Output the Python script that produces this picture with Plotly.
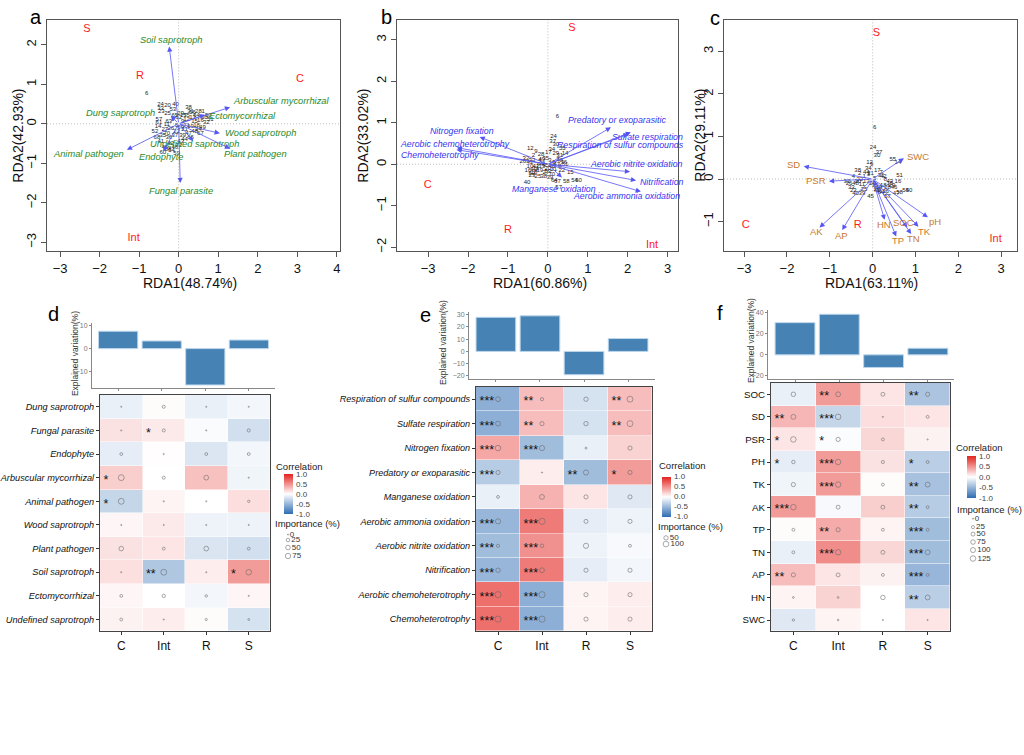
import plotly.graph_objects as go
import math

W, H = 1024, 755
FONT = "Liberation Sans, Arial, sans-serif"

# ======================= DATA =======================
# ---- panel a (fungal functional groups RDA) ----
a_vars = ["Soil saprotroph", "Arbuscular mycorrhizal", "Ectomycorrhizal", "Dung saprotroph",
          "Wood saprotroph", "Undefined saprotroph", "Plant pathogen", "Animal pathogen",
          "Endophyte", "Fungal parasite"]
a_tip_x = [-0.24, 1.30, 0.66, -0.20, 1.04, 0.37, 1.30, -1.31, -0.39, 0.04]
a_tip_y = [1.96, 0.42, 0.23, 0.21, -0.24, -0.44, -0.63, -0.66, -0.70, -1.50]
a_lab_x = [-0.19, 1.32, 0.71, -0.56, 1.11, 0.40, 1.09, -1.33, -0.44, 0.07]
a_lab_y = [2.13, 0.57, 0.19, 0.27, -0.24, -0.51, -0.76, -0.76, -0.84, -1.69]
a_lab_anchor = ["center", "left", "left", "right", "left", "center", "left", "right", "center", "center"]
a_groups = ["S", "R", "C", "Int"]
a_group_x = [-2.32, -0.98, 3.07, -1.14]
a_group_y = [2.40, 1.21, 1.12, -2.91]
a_site_lab = ["6", "24", "20", "40", "33", "23", "25", "38", "28", "1", "31", "17", "57", "61", "14",
              "11", "3", "5", "9", "12", "13", "15", "16", "18", "19", "21", "22", "26", "27", "29",
              "30", "32", "34", "35", "36", "37", "39", "41", "42", "43", "44", "45", "46", "47",
              "48", "49", "50", "51", "52", "53", "54", "55", "56", "58", "59", "60", "62", "63",
              "64", "65", "66", "67", "68", "69", "70", "71", "72"]
a_site_x = [-0.81, -0.46, -0.28, -0.08, -0.46, -0.44, -0.28, 0.25, 0.50, 0.62, 0.30, 0.12, -0.50, -0.50,
            -0.52, -0.30, -0.15, -0.05, 0.10, 0.20, 0.35, 0.40, 0.55, 0.45, 0.30, 0.15, -0.05, -0.20,
            -0.35, 0.05, 0.65, 0.70, 0.50, -0.40, -0.25, -0.10, 0.10, -0.45, -0.20, 0.05, 0.15, -0.35,
            -0.10, 0.25, 0.40, 0.60, 0.75, 0.80, -0.60, -0.15, -0.18, 0.20, 0.35, -0.27, -0.05, -0.40,
            0.00, -0.25, 0.45, -0.10, 0.30, 0.55, -0.55, 0.05, -0.30, 0.20, 0.00]
a_site_y = [0.77, 0.48, 0.46, 0.48, 0.38, 0.30, 0.26, 0.40, 0.32, 0.32, 0.30, 0.22, 0.10, 0.02,
            -0.06, -0.02, 0.10, -0.05, 0.05, 0.10, 0.15, 0.05, 0.08, -0.05, -0.08, -0.15, -0.20, -0.12,
            -0.15, 0.25, 0.15, 0.02, -0.15, -0.30, -0.35, -0.30, -0.30, -0.45, -0.50, -0.45, -0.40,
            -0.60, -0.60, -0.25, -0.20, -0.10, 0.22, 0.10, -0.20, 0.35, -0.68, 0.20, 0.28, -0.66,
            -0.75, -0.73, 0.15, 0.05, 0.20, 0.20, -0.35, -0.25, -0.35, -0.10, -0.25, -0.05, -0.55]

# ---- panel b (bacterial functions RDA) ----
b_vars = ["Predatory or exoparasitic", "Sulfate respiration", "Respiration of sulfur compounds",
          "Aerobic nitrite oxidation", "Nitrification", "Aerobic ammonia oxidation",
          "Manganese oxidation", "Nitrogen fixation", "Aerobic chemoheterotrophy", "Chemoheterotrophy"]
b_tip_x = [1.58, 2.08, 2.02, 2.06, 2.21, 2.33, 0.35, -1.71, -2.28, -2.29]
b_tip_y = [0.89, 0.77, 0.73, -0.18, -0.39, -0.66, -0.32, 0.66, 0.40, 0.35]
b_lab_x = [0.45, 1.56, 0.18, 1.00, 2.25, 0.58, 0.15, -2.15, -2.33, -2.71]
b_lab_y = [1.06, 0.66, 0.47, 0.00, -0.43, -0.77, -0.59, 0.81, 0.50, 0.23]
b_lab_anchor = ["left", "left", "left", "left", "left", "left", "center", "center", "center", "center"]
b_groups = ["S", "C", "R", "Int"]
b_group_x = [0.60, -3.01, -1.00, 2.61]
b_group_y = [3.27, -0.51, -1.60, -1.96]
b_site_lab = ["6", "24", "12", "28", "17", "55", "14", "26", "51", "15", "40", "70", "64", "67", "58",
              "54", "50", "57", "37", "30", "9", "2", "33", "4", "1", "3", "5", "7", "8", "10", "11",
              "13", "16", "18", "19", "20", "21", "22", "23", "25", "27", "29", "31", "32", "34", "35",
              "36", "38", "39", "41", "42", "43", "44", "45", "46", "47", "48", "49", "52", "53"]
b_site_x = [0.24, 0.14, -0.44, -0.17, 0.01, 0.36, 0.43, -0.63, 0.43, 0.56, -0.52, 0.10, 0.16, 0.24, 0.46,
            0.67, 0.77, 0.27, 0.12, 0.20, -0.30, -0.36, -0.40, -0.20, -0.10, 0.05, 0.15, 0.25, 0.30,
            -0.45, -0.30, -0.15, -0.50, -0.35, -0.20, 0.00, 0.15, 0.35, -0.40, -0.25, -0.05, 0.20,
            0.30, -0.55, 0.10, -0.05, 0.40, -0.10, 0.05, -0.30, -0.45, -0.35, -0.20, -0.05, 0.10,
            0.22, 0.30, -0.15, -0.40, 0.00]
b_site_y = [1.14, 0.66, 0.37, 0.23, 0.29, 0.39, 0.26, 0.06, -0.01, -0.19, -0.44, -0.25, -0.39, -0.41,
            -0.41, -0.39, -0.39, -0.56, 0.55, 0.48, 0.30, 0.20, 0.10, 0.10, 0.02, 0.10, 0.05, 0.12,
            -0.05, -0.05, -0.10, -0.05, -0.15, -0.20, -0.15, -0.10, -0.12, -0.15, -0.28, -0.30,
            -0.20, 0.25, 0.20, 0.15, 0.35, 0.15, 0.05, -0.30, -0.32, -0.05, 0.05, -0.12, 0.00,
            -0.02, -0.05, 0.00, 0.08, 0.12, -0.22, -0.18]

# ---- panel c (soil properties RDA) ----
c_vars = ["SWC", "SD", "PSR", "AK", "AP", "HN", "SOC", "TP", "TN", "TK", "pH"]
c_tip_x = [0.73, -1.61, -1.02, -1.24, -0.71, 0.28, 0.81, 0.55, 0.90, 1.07, 1.29]
c_tip_y = [0.49, 0.30, -0.05, -1.14, -1.20, -0.96, -1.14, -1.35, -1.29, -1.12, -0.90]
c_lab_x = [0.76, -1.65, -1.04, -1.31, -0.73, 0.26, 0.71, 0.59, 0.96, 1.20, 1.46]
c_lab_y = [0.52, 0.34, -0.04, -1.24, -1.32, -1.08, -1.02, -1.45, -1.41, -1.23, -0.99]
c_lab_anchor = ["left", "right", "right", "center", "center", "center", "center", "center",
                "center", "center", "center"]
c_groups = ["S", "C", "R", "Int"]
c_group_x = [0.09, -2.96, -0.35, 2.87]
c_group_y = [3.43, -1.08, -1.08, -1.41]
c_site_lab = ["6", "24", "37", "30", "55", "14", "12", "9", "17", "51", "16", "54", "50", "58", "2",
              "4", "26", "40", "33", "1", "3", "5", "7", "8", "10", "11", "13", "15", "18", "19",
              "20", "21", "22", "23", "25", "27", "28", "29", "31", "32", "34", "35", "36", "38",
              "39", "41", "42", "43", "44", "45", "46", "47", "48", "57", "64", "70"]
c_site_x = [0.05, 0.01, 0.15, 0.10, 0.47, 0.59, -0.07, -0.02, 0.11, 0.63, 0.59, 0.77, 0.85, 0.63,
            -0.30, -0.45, -0.55, -0.40, -0.50, -0.20, -0.10, 0.05, 0.20, 0.30, -0.35, -0.25,
            -0.15, 0.40, 0.25, 0.15, 0.00, -0.05, -0.30, -0.45, -0.20, 0.10, 0.35, 0.45, 0.20,
            -0.60, -0.10, 0.05, 0.30, -0.35, -0.25, 0.15, 0.25, 0.40, -0.15, -0.05, 0.50, 0.55,
            -0.40, 0.35, 0.20, 0.10]
c_site_y = [1.21, 0.73, 0.62, 0.55, 0.45, 0.38, 0.38, 0.33, 0.21, 0.08, -0.06, -0.26, -0.26, -0.31,
            0.12, 0.05, -0.10, -0.35, -0.20, 0.05, 0.10, 0.02, 0.15, 0.00, -0.05, -0.12, -0.05,
            -0.10, -0.15, -0.20, -0.10, 0.12, 0.00, -0.28, -0.25, -0.25, -0.20, -0.15, 0.08,
            -0.05, 0.25, -0.15, -0.30, 0.20, -0.35, -0.30, 0.05, -0.05, 0.15, -0.40, -0.20,
            -0.35, -0.10, -0.40, -0.32, -0.28]

# ---- heatmap columns (CSR strategies) ----
strategies = ["C", "Int", "R", "S"]

# ---- panel d ----
d_bar = [7.5, 3.3, -15.7, 3.7]
d_rows = ["Dung saprotroph", "Fungal parasite", "Endophyte", "Arbuscular mycorrhizal", "Animal pathogen",
          "Wood saprotroph", "Plant pathogen", "Soil saprotroph", "Ectomycorrhizal", "Undefined saprotroph"]
d_corr = [[-0.10, 0.02, -0.10, -0.06],
          [0.13, 0.10, -0.03, -0.22],
          [-0.12, 0.01, -0.17, -0.06],
          [0.22, 0.00, 0.28, -0.07],
          [-0.28, 0.05, 0.00, 0.15],
          [0.04, 0.10, -0.08, -0.08],
          [0.13, 0.12, -0.18, -0.22],
          [0.14, -0.38, 0.08, 0.45],
          [0.04, 0.00, -0.06, 0.04],
          [0.06, 0.08, 0.02, -0.20]]
d_imp = [[0, 15, 0, 0],
         [0, 15, 0, 17],
         [12, 0, 12, 12],
         [95, 15, 55, 0],
         [95, 0, 0, 6],
         [0, 0, 0, 0],
         [50, 12, 55, 12],
         [0, 95, 0, 85],
         [12, 20, 6, 0],
         [12, 0, 4, 2]]
d_sig = [["", "", "", ""],
         ["", "*", "", ""],
         ["", "", "", ""],
         ["*", "", "", ""],
         ["*", "", "", ""],
         ["", "", "", ""],
         ["", "", "", ""],
         ["", "**", "", "*"],
         ["", "", "", ""],
         ["", "", "", ""]]
d_leg_vals = [0, 25, 50, 75]

# ---- panel e ----
e_bar = [27.8, 29.0, -19.0, 10.5]
e_rows = ["Respiration of sulfur compounds", "Sulfate respiration", "Nitrogen fixation",
          "Predatory or exoparasitic", "Manganese oxidation", "Aerobic ammonia oxidation",
          "Aerobic nitrite oxidation", "Nitrification", "Aerobic chemoheterotrophy", "Chemoheterotrophy"]
e_corr = [[-0.55, 0.30, -0.20, 0.30],
          [-0.55, 0.30, -0.20, 0.30],
          [0.40, -0.45, -0.10, 0.20],
          [-0.35, 0.08, -0.45, 0.45],
          [-0.10, 0.35, 0.12, -0.15],
          [-0.50, 0.60, -0.12, -0.08],
          [-0.45, 0.50, -0.08, -0.04],
          [-0.50, 0.60, -0.12, -0.06],
          [0.65, -0.55, 0.05, 0.08],
          [0.65, -0.55, 0.05, 0.08]]
e_imp = [[67, 20, 50, 110],
         [67, 44, 50, 110],
         [91, 79, 3, 44],
         [44, 0, 79, 44],
         [14, 67, 44, 44],
         [79, 123, 40, 44],
         [20, 27, 79, 14],
         [54, 67, 44, 44],
         [123, 123, 44, 44],
         [123, 123, 44, 44]]
e_sig = [["***", "**", "", "**"],
         ["***", "**", "", "**"],
         ["***", "***", "", ""],
         ["***", "", "**", "*"],
         ["", "", "", ""],
         ["***", "***", "", ""],
         ["***", "***", "", ""],
         ["***", "***", "", ""],
         ["***", "***", "", ""],
         ["***", "***", "", ""]]
e_leg_vals = [50, 100]

# ---- panel f ----
f_bar = [30.7, 38.7, -12.0, 6.3]
f_rows = ["SOC", "SD", "PSR", "PH", "TK", "AK", "TP", "TN", "AP", "HN", "SWC"]
f_corr = [[-0.10, 0.45, 0.12, -0.40],
          [0.33, -0.28, 0.15, 0.12],
          [0.12, -0.02, 0.18, 0.06],
          [-0.12, 0.45, 0.13, -0.33],
          [-0.07, 0.45, 0.02, -0.42],
          [0.45, -0.04, 0.22, -0.35],
          [0.02, 0.38, 0.05, -0.45],
          [-0.10, 0.52, 0.18, -0.45],
          [0.30, 0.12, 0.06, -0.50],
          [0.05, 0.20, 0.00, -0.33],
          [-0.15, 0.05, 0.00, 0.12]]
f_imp = [[72, 90, 48, 59],
         [90, 125, 0, 19],
         [125, 59, 19, 0],
         [35, 120, 25, 19],
         [59, 120, 19, 90],
         [125, 48, 48, 19],
         [19, 59, 19, 19],
         [19, 120, 48, 90],
         [59, 48, 19, 19],
         [2, 2, 72, 90],
         [8, 1, 0, 0]]
f_sig = [["", "**", "", "**"],
         ["**", "***", "", ""],
         ["*", "*", "", ""],
         ["*", "***", "", "*"],
         ["", "***", "", "**"],
         ["***", "", "", "**"],
         ["", "**", "", "***"],
         ["", "***", "", "***"],
         ["**", "", "", "***"],
         ["", "", "", "**"],
         ["", "", "", ""]]
f_leg_vals = [0, 25, 50, 75, 100, 125]

# ======================= STYLE / LAYOUT =======================
CS = [[0, "#2F6CB2"], [0.5, "#FFFFFF"], [1, "#E3231E"]]
ARROW = "#5656F5"


def px(x):
    return x / W


def py(y):
    return 1 - y / H


fig = go.Figure()
annotations = []
shapes = []
layout = {}


def rda_panel(idx, box, xr, yr, xt, yt, vars_, tx, ty, lx, ly, la, lcol, italic,
              groups, gx, gy, slab, sx, sy, lsize):
    xa = "x" if idx == 1 else "x%d" % idx
    ya = "y" if idx == 1 else "y%d" % idx
    l, t, r, b = box
    common = dict(showline=True, mirror=True, linecolor="#555", linewidth=1, ticks="outside",
                  ticklen=5, tickcolor="#555", showgrid=False, zeroline=False,
                  tickfont=dict(size=13, color="#111"))
    layout["xaxis" if idx == 1 else "xaxis%d" % idx] = dict(domain=[px(l), px(r)], range=xr,
                                                           tickvals=xt, anchor=ya, **common)
    layout["yaxis" if idx == 1 else "yaxis%d" % idx] = dict(domain=[py(b), py(t)], range=yr,
                                                           tickvals=yt, anchor=xa, tickangle=-90,
                                                           **common)
    shapes.append(dict(type="line", xref=xa, yref=ya + " domain", x0=0, x1=0, y0=0, y1=1,
                       line=dict(color="#aaa", width=0.8, dash="1px,2px")))
    shapes.append(dict(type="line", xref=xa + " domain", yref=ya, x0=0, x1=1, y0=0, y1=0,
                       line=dict(color="#aaa", width=0.8, dash="1px,2px")))
    # site labels
    fig.add_trace(go.Scatter(x=sx, y=sy, text=slab, mode="text", xaxis=xa, yaxis=ya,
                             textfont=dict(size=6, color="#222", family=FONT),
                             hoverinfo="skip", showlegend=False))
    # arrows
    for i in range(len(vars_)):
        annotations.append(dict(x=tx[i], y=ty[i], ax=0, ay=0, xref=xa, yref=ya, axref=xa, ayref=ya,
                                showarrow=True, arrowhead=2, arrowsize=1.3, arrowwidth=0.8,
                                arrowcolor=ARROW, text="", standoff=0, startstandoff=0))
        txt = "<i>%s</i>" % vars_[i] if italic else vars_[i]
        annotations.append(dict(x=lx[i], y=ly[i], xref=xa, yref=ya, text=txt, showarrow=False,
                                xanchor=la[i], yanchor="middle",
                                font=dict(size=lsize, color=lcol, family=FONT)))
    # group labels
    fig.add_trace(go.Scatter(x=gx, y=gy, text=groups, mode="text", xaxis=xa, yaxis=ya,
                             textfont=dict(size=11, color="#FF1A1A", family=FONT),
                             hoverinfo="skip", showlegend=False))


rda_panel(1, (47, 19, 340, 251), [-3.33, 4.08], [-3.23, 2.63], list(range(-3, 5)), list(range(-3, 3)),
          a_vars, a_tip_x, a_tip_y, a_lab_x, a_lab_y, a_lab_anchor, "#2A8A2A", True,
          a_groups, a_group_x, a_group_y, a_site_lab, a_site_x, a_site_y, 9.3)
rda_panel(2, (397, 19, 678, 251), [-3.78, 3.26], [-2.1, 3.48], list(range(-3, 4)), list(range(-2, 4)),
          b_vars, b_tip_x, b_tip_y, b_lab_x, b_lab_y, b_lab_anchor, "#3535F0", True,
          b_groups, b_group_x, b_group_y, b_site_lab, b_site_x, b_site_y, 8.8)
rda_panel(3, (724, 19, 1017, 251), [-3.47, 3.37], [-1.70, 3.74], list(range(-3, 4)), list(range(-1, 4)),
          c_vars, c_tip_x, c_tip_y, c_lab_x, c_lab_y, c_lab_anchor, "#C87A2E", False,
          c_groups, c_group_x, c_group_y, c_site_lab, c_site_x, c_site_y, 9.5)

# axis titles for RDA panels
for (cx, cy, txt) in [(190, 283, "RDA1(48.74%)"), (540, 283, "RDA1(60.86%)"), (871, 283, "RDA1(63.11%)")]:
    annotations.append(dict(x=px(cx), y=py(cy), xref="paper", yref="paper", text=txt, showarrow=False,
                            xanchor="center", yanchor="middle", font=dict(size=14, color="#111")))
for (cx, cy, txt) in [(18, 135, "RDA2(42.93%)"), (363, 135, "RDA2(33.02%)"), (700, 135, "RDA2(29.11%)")]:
    annotations.append(dict(x=px(cx), y=py(cy), xref="paper", yref="paper", text=txt, showarrow=False,
                            textangle=-90, xanchor="center", yanchor="middle",
                            font=dict(size=14, color="#111")))

# panel letters
for (cx, cy, txt) in [(36, 16, "a"), (386, 16, "b"), (715, 17, "c"),
                      (53, 314, "d"), (425, 315, "e"), (720, 313, "f")]:
    annotations.append(dict(x=px(cx), y=py(cy), xref="paper", yref="paper", text=txt, showarrow=False,
                            xanchor="center", yanchor="middle", font=dict(size=20, color="black")))


def size_of(v, k):
    return 1.2 + k * math.sqrt(v)


def heat_panel(bidx, hidx, cax, bar_box, bar_xr, bar_yr, bar_ticks, bar_vals,
               heat_box, rows, corr, imp, sig, italic, rowfs, k, ytitle_x, ytitle_y,
               cb, leg_title_pos, imp_title_pos, leg_x, leg_ys, leg_vals):
    bx, by = "x%d" % bidx, "y%d" % bidx
    hx, hy = "x%d" % hidx, "y%d" % hidx
    l, t, r, b = bar_box
    layout["xaxis%d" % bidx] = dict(domain=[px(l), px(r)], range=bar_xr, anchor=by, showline=True,
                                    linecolor="#888", linewidth=1, ticks="outside", ticklen=2,
                                    tickcolor="#888", tickvals=[0, 1, 2, 3], showticklabels=False,
                                    showgrid=False, zeroline=False)
    layout["yaxis%d" % bidx] = dict(domain=[py(b), py(t)], range=bar_yr, anchor=bx, showline=True,
                                    linecolor="#888", linewidth=1, ticks="outside", ticklen=2,
                                    tickcolor="#888", tickvals=bar_ticks, showgrid=False,
                                    zeroline=False, tickfont=dict(size=7, color="#777"))
    fig.add_trace(go.Bar(x=[0, 1, 2, 3], y=bar_vals, width=0.9, xaxis=bx, yaxis=by,
                         marker=dict(color="#4682B4", line=dict(color="#BCD6EC", width=1)),
                         hoverinfo="skip", showlegend=False))
    annotations.append(dict(x=px(ytitle_x), y=py(ytitle_y), xref="paper", yref="paper",
                            text="Explained variation(%)", showarrow=False, textangle=-90,
                            xanchor="center", yanchor="middle", font=dict(size=8.5, color="#333")))
    # heatmap
    l, t, r, b = heat_box
    n = len(rows)
    ticktext = ["<i>%s</i>" % s for s in rows] if italic else rows
    layout["xaxis%d" % hidx] = dict(domain=[px(l), px(r)], range=[-0.5, 3.5], anchor=hy,
                                    tickvals=[0, 1, 2, 3], ticktext=strategies, ticks="outside",
                                    ticklen=3, tickcolor="#333", showline=True, mirror=True,
                                    linecolor="#444", linewidth=1, showgrid=False, zeroline=False,
                                    tickfont=dict(size=12, color="#111"))
    layout["yaxis%d" % hidx] = dict(domain=[py(b), py(t)], range=[n - 0.5, -0.5], anchor=hx,
                                    tickvals=list(range(n)), ticktext=ticktext, ticks="outside",
                                    ticklen=3, tickcolor="#333", showline=True, mirror=True,
                                    linecolor="#444", linewidth=1, showgrid=False, zeroline=False,
                                    tickfont=dict(size=rowfs, color="#111"))
    fig.add_trace(go.Heatmap(z=corr, x=[0, 1, 2, 3], y=list(range(n)), coloraxis=cax,
                             xaxis=hx, yaxis=hy, hoverinfo="skip", xgap=0.5, ygap=0.5))
    cx, cyv, cs = [], [], []
    sx, sy, st = [], [], []
    for i in range(n):
        for j in range(4):
            cx.append(j)
            cyv.append(i)
            cs.append(size_of(imp[i][j], k))
            if sig[i][j]:
                sx.append(j - 0.42)
                sy.append(i + 0.13)
                st.append(sig[i][j])
    fig.add_trace(go.Scatter(x=cx, y=cyv, mode="markers", xaxis=hx, yaxis=hy,
                             marker=dict(symbol="circle-open", size=cs, color="#666",
                                         line=dict(width=0.8, color="#666")),
                             hoverinfo="skip", showlegend=False))
    fig.add_trace(go.Scatter(x=sx, y=sy, text=st, mode="text", textposition="middle right",
                             xaxis=hx, yaxis=hy, textfont=dict(size=12.5, color="#111", family=FONT),
                             hoverinfo="skip", showlegend=False))
    # colorbar
    cbx, cby, cblen = cb
    layout[cax] = dict(cmin=-1, cmax=1, colorscale=CS,
                       colorbar=dict(x=px(cbx), xanchor="left", y=py(cby), yanchor="middle",
                                     len=cblen, lenmode="pixels", thickness=9,
                                     thicknessmode="pixels", xpad=0, ypad=0, outlinewidth=0,
                                     tickvals=[-1, -0.5, 0, 0.5, 1],
                                     ticktext=["-1.0", "-0.5", "0.0", "0.5", "1.0"],
                                     ticks="outside", ticklen=2, tickcolor="#fff",
                                     tickfont=dict(size=8, color="#444")))
    annotations.append(dict(x=px(leg_title_pos[0]), y=py(leg_title_pos[1]), xref="paper", yref="paper",
                            text="Correlation", showarrow=False, xanchor="left", yanchor="middle",
                            font=dict(size=9.5, color="#222")))
    annotations.append(dict(x=px(imp_title_pos[0]), y=py(imp_title_pos[1]), xref="paper", yref="paper",
                            text="Importance (%)", showarrow=False, xanchor="left", yanchor="middle",
                            font=dict(size=9.5, color="#222")))
    fig.add_trace(go.Scatter(x=[leg_x] * len(leg_vals), y=leg_ys, mode="markers+text",
                             text=[str(v) for v in leg_vals], textposition="middle right",
                             textfont=dict(size=8, color="#333"),
                             xaxis="x10", yaxis="y10",
                             marker=dict(symbol="circle-open", size=[size_of(v, k) for v in leg_vals],
                                         color="#666", line=dict(width=0.8, color="#666")),
                             hoverinfo="skip", showlegend=False))


heat_panel(4, 5, "coloraxis", (92, 323, 275, 388), [-0.6, 3.6], [-17, 11], [-10, 0, 10], d_bar,
           (100, 395, 270, 632), d_rows, d_corr, d_imp, d_sig, True, 9.2, 0.48, 75, 354,
           (284, 494, 40), (274, 466.5), (273, 524), 288, [535, 540.5, 548, 556.5], d_leg_vals)
heat_panel(6, 7, "coloraxis2", (469, 312, 655, 379), [-0.61, 3.61], [-22.5, 32],
           [-20, -10, 0, 10, 20, 30], e_bar,
           (476, 387, 652, 632), e_rows, e_corr, e_imp, e_sig, True, 9.1, 0.45, 443, 343,
           (662, 497, 40), (657, 466), (656, 527), 666, [538.3, 544.5], e_leg_vals)
heat_panel(8, 9, "coloraxis3", (768, 310, 954, 379), [-0.61, 3.59], [-23, 42.6], [-20, 0, 20, 40],
           f_bar,
           (771, 383, 950, 632), f_rows, f_corr, f_imp, f_sig, False, 9.7, 0.39, 751, 341,
           (967, 477, 42), (954, 448), (955, 509.5), 973,
           [519, 527.5, 534.5, 542.5, 550.5, 559], f_leg_vals)

# canvas axis for legend keys
layout["xaxis10"] = dict(domain=[0, 1], range=[0, W], visible=False, anchor="y10", fixedrange=True)
layout["yaxis10"] = dict(domain=[0, 1], range=[H, 0], visible=False, anchor="x10", fixedrange=True)

fig.update_layout(width=W, height=H, margin=dict(l=0, r=0, t=0, b=0),
                  paper_bgcolor="white", plot_bgcolor="rgba(0,0,0,0)",
                  font=dict(family=FONT, color="#111"), showlegend=False,
                  annotations=annotations, shapes=shapes, **layout)
fig.write_html("out.html", config={"displayModeBar": False, "staticPlot": True},
               post_script="document.body.style.margin='0';document.body.style.overflow='hidden';")
